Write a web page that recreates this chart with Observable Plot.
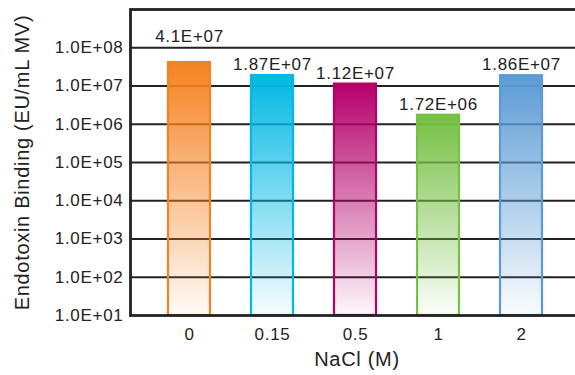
<!DOCTYPE html>
<html>
<head>
<meta charset="utf-8">
<script src="https://cdn.jsdelivr.net/npm/d3@7"></script>
<script src="https://cdn.jsdelivr.net/npm/@observablehq/plot@0.6"></script>
<style>
  html, body { margin: 0; padding: 0; background: #fff; }
  svg { display: block; }
</style>
</head>
<body>
<div id="chart"></div>
<script>
const categories = ["0", "0.15", "0.5", "1", "2"];
const values = [4.1e7, 1.87e7, 1.12e7, 1.72e6, 1.86e7];
const valueLabels = ["4.1E+07", "1.87E+07", "1.12E+07", "1.72E+06", "1.86E+07"];
const colors = ["#f58220", "#00b8e4", "#b5006a", "#76c043", "#5b9bd5"];
const yTicks = [1e1, 1e2, 1e3, 1e4, 1e5, 1e6, 1e7, 1e8];
const yTickLabels = ["1.0E+01", "1.0E+02", "1.0E+03", "1.0E+04", "1.0E+05", "1.0E+06", "1.0E+07", "1.0E+08"];
const xTitle = "NaCl (M)";
const yTitle = "Endotoxin Binding (EU/mL MV)";

// put a value label above the next gridline when it would otherwise cross it
const labelAnchorValue = v => {
  const up = Math.ceil(Math.log10(v));
  return (up - Math.log10(v)) < 0.52 ? 10 ** up : v;
};

const data = categories.map((c, i) => ({
  cat: c, value: values[i], label: valueLabels[i], color: colors[i],
  grad: `url(#grad${i})`, labelY: labelAnchorValue(values[i])
}));

const plot = Plot.plot({
  width: 575,
  height: 375,
  marginLeft: 130,
  marginRight: -2,
  marginTop: 9,
  marginBottom: 60,
  style: {
    fontFamily: "'Liberation Sans', Arial, Helvetica, sans-serif",
    fontSize: "17px",
    letterSpacing: "0.7px",
    color: "#222",
    background: "#fff"
  },
  x: {
    domain: categories,
    range: [130, 580],
    paddingInner: 0.5,
    paddingOuter: 0.443,
    tickSize: 0,
    tickPadding: 12,
    label: null
  },
  y: {
    type: "log",
    domain: [10, 1e9],
    ticks: yTicks,
    tickFormat: d => yTickLabels[yTicks.indexOf(d)],
    tickSize: 0,
    tickPadding: 7,
    label: null
  },
  color: { type: "identity" },
  marks: [
    Plot.ruleY(yTicks.slice(1), { stroke: "#222", strokeWidth: 2.2 }),
    Plot.barY(data, {
      x: "cat", y1: 10, y2: "value",
      fill: "grad", stroke: "color", strokeWidth: 2.2
    }),
    Plot.frame({ stroke: "#222", strokeWidth: 2.8 }),
    Plot.text(data, {
      x: "cat", y: "labelY", text: "label",
      dy: -11, fontSize: 17, fill: "#222"
    }),
    Plot.text([xTitle], { frameAnchor: "bottom", textAnchor: "middle", dx: 3, dy: 50, fontSize: 20, fill: "#222" }),
    Plot.text([yTitle], { frameAnchor: "left", textAnchor: "middle", dx: -108, rotate: -90, fontSize: 20, fill: "#222" })
  ]
});

// gradient definitions
const ns = "http://www.w3.org/2000/svg";
const defs = document.createElementNS(ns, "defs");
colors.forEach((c, i) => {
  const g = document.createElementNS(ns, "linearGradient");
  g.setAttribute("id", `grad${i}`);
  g.setAttribute("x1", "0"); g.setAttribute("y1", "0");
  g.setAttribute("x2", "0"); g.setAttribute("y2", "1");
  const s1 = document.createElementNS(ns, "stop");
  s1.setAttribute("offset", "0"); s1.setAttribute("stop-color", c);
  const s2 = document.createElementNS(ns, "stop");
  s2.setAttribute("offset", "1"); s2.setAttribute("stop-color", c); s2.setAttribute("stop-opacity", "0.03");
  g.appendChild(s1); g.appendChild(s2);
  defs.appendChild(g);
});
plot.insertBefore(defs, plot.firstChild);

document.getElementById("chart").appendChild(plot);
</script>
</body>
</html>
